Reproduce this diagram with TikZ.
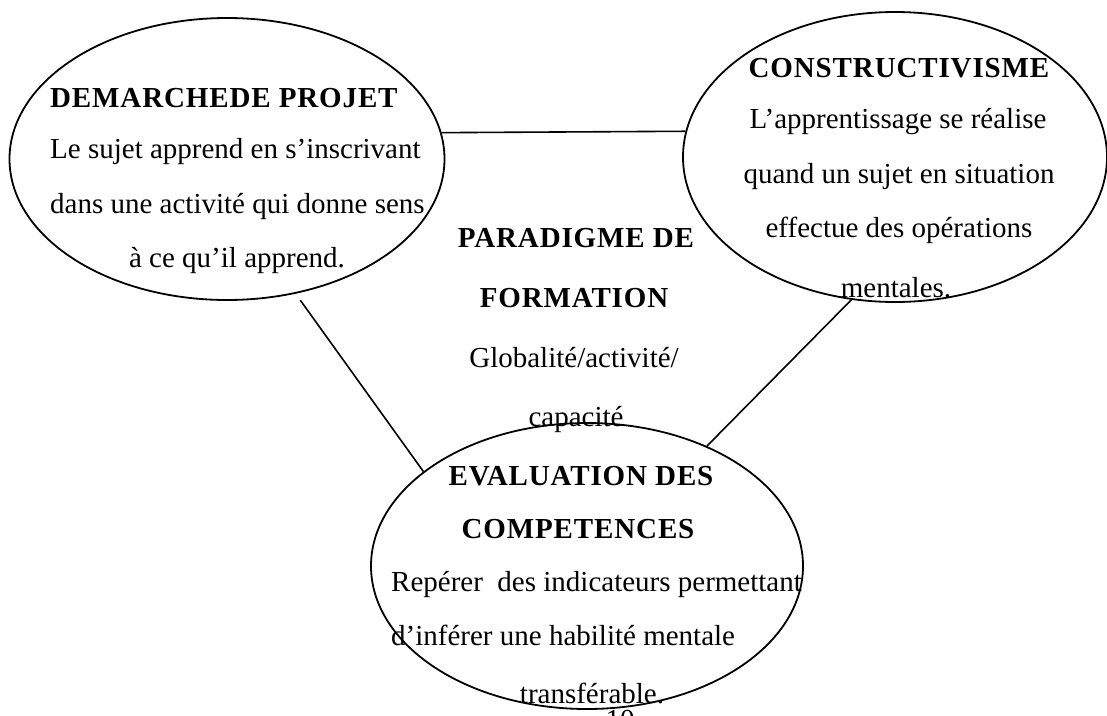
\documentclass[tikz,border=0pt]{standalone}
\usepackage{fontspec}
\setmainfont{Liberation Serif}
\newfontfamily\hdfont{Liberation Serif Bold}[LetterSpace=3]
\usetikzlibrary{shapes.geometric}
\tikzset{
  oval/.style={draw, line width=1.8pt, ellipse, inner sep=0pt},
  txt/.style={anchor=base, inner sep=0pt, font=\fontsize{29}{29}\selectfont},
  txtl/.style={txt, anchor=base west},
  hd/.style={anchor=base, inner sep=0pt, font=\fontsize{29}{29}\hdfont},
  hdl/.style={hd, anchor=base west},
  link/.style={line width=1.6pt}
}
\begin{document}
\begin{tikzpicture}[x=1pt,y=-1pt]
\useasboundingbox (0,0) rectangle (1107,715);
% ellipses
\node[oval, minimum width=435pt, minimum height=282pt] (L) at (227,159) {};
\node[oval, minimum width=424pt, minimum height=290pt] (R) at (895,157) {};
\node[oval, minimum width=432pt, minimum height=286pt] (B) at (587,566) {};
% connectors
\draw[link] (L.7) -- (R.173.3);
\draw[link, shorten <=8pt] (L.-63.6) -- (B.150);
\draw[link] (R.253.5) -- (B.45.5);
% left text
\node[hdl] (l1) at (50,107) {DEMARCHEDE PROJET};
\node[txtl] (l2) at (50,158) {Le sujet apprend en s’inscrivant};
\node[txtl] (l3) at (50,213) {dans une activité qui donne sens};
\node[txt] (l4) at (237,267) {à ce qu’il apprend.};
% right text
\node[hd] (r1) at (899,77) {CONSTRUCTIVISME};
\node[txt] (r2) at (898,128) {L’apprentissage se réalise};
\node[txt] (r3) at (899,183) {quand un sujet en situation};
\node[txt] (r4) at (899,237) {effectue des opérations};
\node[txt] (r5) at (896,297) {mentales.};
% centre text
\node[hd] (c1) at (576,247) {PARADIGME DE};
\node[hd] (c2) at (574,307) {FORMATION};
\node[txt] (c3) at (574,367) {Globalité/activité/};
\node[txt] (c4) at (576,426) {capacité};
% bottom text
\node[hd] (b1) at (581,485) {EVALUATION DES};
\node[hd] (b2) at (578,538) {COMPETENCES};
\node[txtl] (b3) at (391,591) {Repérer\ \ des indicateurs permettant};
\node[txtl] (b4) at (391,645) {d’inférer une habilité mentale};
\node[txt] (b5) at (592,703) {transférable.};
\node[txt] (pg) at (620,729) {10};
\end{tikzpicture}
\end{document}
